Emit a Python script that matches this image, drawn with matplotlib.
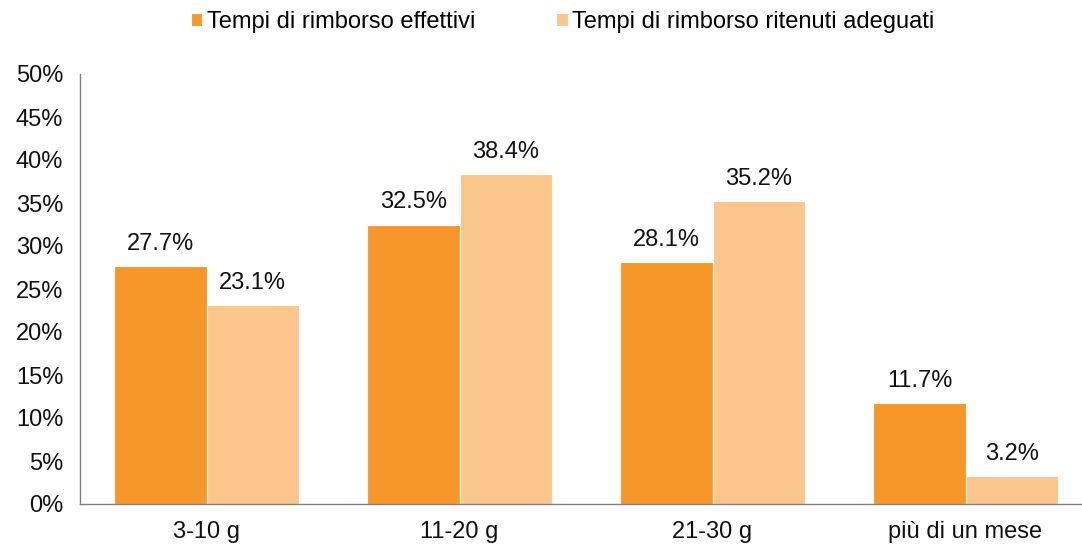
import matplotlib
matplotlib.use("Agg")
import matplotlib.pyplot as plt
import numpy as np

categories = ["3-10 g", "11-20 g", "21-30 g", "più di un mese"]
series_names = ["Tempi di rimborso effettivi", "Tempi di rimborso ritenuti adeguati"]
effettivi = [27.7, 32.5, 28.1, 11.7]
adeguati = [23.1, 38.4, 35.2, 3.2]
yticks = [0, 5, 10, 15, 20, 25, 30, 35, 40, 45, 50]

plt.rcParams['font.family'] = ['Liberation Sans', 'DejaVu Sans']

W, H = 1082, 546
fig = plt.figure(figsize=(W / 100, H / 100), dpi=100)
ax = fig.add_axes([80 / W, (H - 504) / H, 1012 / W, (504 - 74) / H])

FS = 17
x = np.arange(len(categories))
bw = 0.364
c1 = "#F7972A"
c2 = "#FAC68B"
b1 = ax.bar(x - bw / 2, effettivi, bw, color=c1, edgecolor="white", linewidth=0.8, label=series_names[0])
b2 = ax.bar(x + bw / 2, adeguati, bw, color=c2, edgecolor="white", linewidth=0.8, label=series_names[1])

for bars, vals in ((b1, effettivi), (b2, adeguati)):
    for r, v in zip(bars, vals):
        ax.annotate(f"{v:.1f}%", (r.get_x() + r.get_width() / 2, v), xytext=(0, 8),
                    textcoords="offset points", ha="center", va="bottom", fontsize=FS, color="#111111")

ax.set_xlim(-0.5, len(categories) - 0.5)
ax.set_ylim(0, 50)
ax.set_yticks(yticks)
ax.set_yticklabels([f"{t}%" for t in yticks], fontsize=FS, color="#111111")
ax.set_xticks(x)
ax.set_xticklabels(categories, fontsize=FS, color="#111111")
ax.tick_params(axis="y", length=0, pad=12)
ax.tick_params(axis="x", length=0, pad=12)
for s in ("top", "right"):
    ax.spines[s].set_visible(False)
for s in ("left", "bottom"):
    ax.spines[s].set_color("#808080")
    ax.spines[s].set_linewidth(1.0)

fig.legend(handles=[b1, b2], labels=series_names, loc="center", bbox_to_anchor=(0.52, 1 - 22 / H),
           ncol=2, frameon=False, fontsize=FS, handlelength=0.5, handleheight=0.5,
           handletextpad=0.2, columnspacing=3.4)

fig.savefig("out.png", dpi=100)
